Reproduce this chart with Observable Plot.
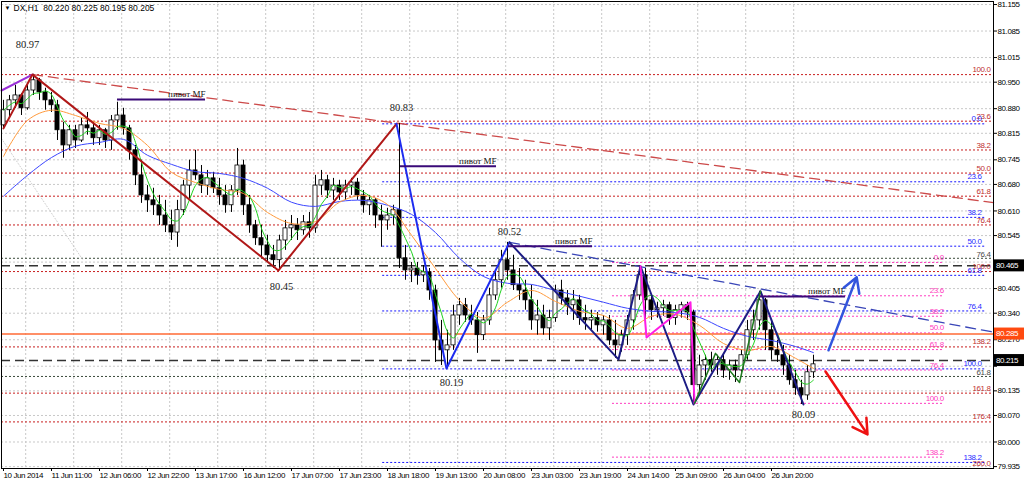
<!DOCTYPE html>
<html><head><meta charset="utf-8">
<script src="https://cdn.jsdelivr.net/npm/d3@7"></script>
<script src="https://cdn.jsdelivr.net/npm/@observablehq/plot@0.6"></script>
<style>
html,body{margin:0;padding:0;background:#fff;}
#chart svg{display:block;}
</style></head><body><div id="chart"></div>
<script>
// ---------- DATA ----------
const header = "DX,H1  80.220 80.225 80.195 80.205";
const xTickIdx = [0,8,16,24,32,40,48,56,64,72,80,88,96,104,112,120,128];
const xTickLabels = ["10 Jun 2014","11 Jun 11:00","12 Jun 06:00","12 Jun 22:00","13 Jun 17:00","16 Jun 12:00","17 Jun 07:00","17 Jun 23:00","18 Jun 18:00","19 Jun 13:00","20 Jun 08:00","23 Jun 03:00","23 Jun 19:00","24 Jun 14:00","25 Jun 09:00","26 Jun 04:00","26 Jun 20:00"];
const yTicks = [81.155,81.085,81.015,80.950,80.880,80.815,80.745,80.680,80.610,80.545,80.475,80.405,80.340,80.270,80.200,80.135,80.070,80.000,79.935];
const yTicksHidden = [80.200]; // covered by the current-price box in the reference

// candles [open, high, low, close] (2-hour steps)
const ohlc = [
[80.836,80.902,80.828,80.876],[80.876,80.915,80.854,80.902],[80.902,80.942,80.881,80.915],[80.915,80.920,80.862,80.881],
[80.881,80.942,80.876,80.928],[80.928,80.971,80.915,80.955],[80.955,80.960,80.902,80.923],[80.923,80.934,80.876,80.902],
[80.902,80.923,80.870,80.889],[80.889,80.902,80.796,80.823],[80.823,80.844,80.749,80.783],[80.783,80.836,80.770,80.823],
[80.823,80.836,80.775,80.796],[80.796,80.854,80.791,80.836],[80.836,80.870,80.810,80.828],[80.828,80.844,80.783,80.802],
[80.802,80.836,80.783,80.823],[80.823,80.828,80.775,80.796],[80.796,80.862,80.770,80.849],[80.849,80.897,80.823,80.862],
[80.862,80.881,80.810,80.828],[80.828,80.836,80.744,80.770],[80.770,80.783,80.677,80.704],[80.704,80.744,80.630,80.651],
[80.651,80.677,80.606,80.638],[80.638,80.670,80.598,80.625],[80.625,80.651,80.572,80.598],[80.598,80.638,80.553,80.572],
[80.572,80.612,80.532,80.553],[80.553,80.638,80.514,80.612],[80.612,80.691,80.598,80.677],[80.677,80.744,80.638,80.717],
[80.717,80.770,80.691,80.704],[80.704,80.730,80.656,80.677],[80.677,80.717,80.651,80.696],[80.696,80.712,80.656,80.670],
[80.670,80.696,80.625,80.651],[80.651,80.677,80.604,80.625],[80.625,80.677,80.606,80.664],[80.664,80.775,80.651,80.730],
[80.730,80.744,80.598,80.625],[80.625,80.651,80.551,80.572],[80.572,80.585,80.519,80.538],[80.538,80.572,80.488,80.519],
[80.519,80.546,80.474,80.493],[80.493,80.519,80.458,80.480],[80.480,80.546,80.453,80.532],[80.532,80.585,80.506,80.564],
[80.564,80.598,80.532,80.572],[80.572,80.590,80.532,80.559],[80.559,80.598,80.546,80.580],[80.580,80.606,80.538,80.564],
[80.564,80.704,80.551,80.677],[80.677,80.717,80.651,80.691],[80.691,80.704,80.643,80.664],[80.664,80.696,80.638,80.677],
[80.677,80.691,80.638,80.659],[80.659,80.691,80.638,80.677],[80.677,80.696,80.651,80.685],[80.685,80.696,80.638,80.651],
[80.651,80.664,80.604,80.625],[80.625,80.651,80.598,80.638],[80.638,80.643,80.564,80.598],[80.598,80.625,80.514,80.585],
[80.585,80.617,80.559,80.598],[80.598,80.625,80.572,80.612],[80.612,80.841,80.458,80.485],[80.485,80.519,80.427,80.453],
[80.453,80.474,80.421,80.458],[80.458,80.474,80.414,80.440],[80.440,80.466,80.421,80.448],[80.448,80.458,80.374,80.400],
[80.400,80.414,80.210,80.268],[80.268,80.321,80.202,80.242],[80.242,80.295,80.194,80.255],[80.255,80.361,80.242,80.334],
[80.334,80.379,80.308,80.361],[80.361,80.379,80.316,80.334],[80.334,80.361,80.308,80.321],[80.321,80.342,80.234,80.282],
[80.282,80.334,80.268,80.321],[80.321,80.406,80.308,80.387],[80.387,80.453,80.374,80.427],[80.427,80.506,80.406,80.480],
[80.480,80.527,80.427,80.453],[80.453,80.493,80.400,80.414],[80.414,80.458,80.374,80.400],[80.400,80.427,80.348,80.374],
[80.374,80.414,80.295,80.321],[80.321,80.374,80.282,80.334],[80.334,80.361,80.282,80.300],[80.300,80.348,80.268,80.327],
[80.327,80.414,80.316,80.400],[80.400,80.427,80.361,80.379],[80.379,80.400,80.334,80.361],[80.361,80.400,80.321,80.374],
[80.374,80.387,80.308,80.327],[80.327,80.361,80.295,80.321],[80.321,80.348,80.295,80.327],[80.327,80.342,80.290,80.308],
[80.308,80.334,80.282,80.321],[80.321,80.334,80.255,80.268],[80.268,80.321,80.221,80.255],[80.255,80.295,80.237,80.282],
[80.282,80.334,80.255,80.321],[80.321,80.400,80.295,80.387],[80.387,80.464,80.374,80.440],[80.440,80.458,80.295,80.374],
[80.374,80.387,80.321,80.348],[80.348,80.369,80.327,80.353],[80.353,80.374,80.332,80.361],[80.361,80.369,80.308,80.327],
[80.327,80.361,80.308,80.348],[80.348,80.369,80.327,80.361],[80.361,80.369,80.321,80.342],[80.342,80.348,80.099,80.150],
[80.150,80.229,80.123,80.202],[80.202,80.229,80.163,80.216],[80.216,80.237,80.184,80.202],[80.202,80.229,80.176,80.216],
[80.216,80.229,80.168,80.189],[80.189,80.216,80.163,80.202],[80.202,80.216,80.157,80.189],[80.189,80.242,80.184,80.229],
[80.229,80.321,80.216,80.295],[80.295,80.348,80.268,80.321],[80.321,80.398,80.295,80.374],[80.374,80.379,80.242,80.295],
[80.295,80.321,80.216,80.242],[80.242,80.268,80.210,80.229],[80.229,80.255,80.176,80.202],[80.202,80.229,80.150,80.163],
[80.163,80.189,80.123,80.142],[80.142,80.163,80.099,80.123],[80.123,80.202,80.110,80.184],[80.184,80.229,80.168,80.205]
];

const maIdx = [0,4,8,12,16,20,24,28,32,36,40,44,48,52,56,60,64,68,72,76,80,84,88,92,96,100,104,108,112,116,120,124,128,132,135];
const maOrange = [80.754,80.849,80.876,80.862,80.841,80.828,80.783,80.712,80.685,80.667,80.656,80.606,80.577,80.582,80.633,80.651,80.627,80.546,80.458,80.374,80.327,80.369,80.400,80.371,80.345,80.334,80.300,80.332,80.337,80.308,80.260,80.242,80.252,80.221,80.194];
const maBlue = [80.649,80.704,80.751,80.781,80.791,80.799,80.757,80.733,80.714,80.709,80.696,80.670,80.633,80.622,80.635,80.638,80.625,80.601,80.553,80.485,80.437,80.419,80.416,80.400,80.385,80.369,80.353,80.345,80.342,80.329,80.300,80.279,80.268,80.252,80.236];

// fibonacci levels
const redFibLabels = ["100.0","23.6","38.2","50.0","61.8","76.4","100.0","138.2","161.8","176.4"];
const redFibPrices = [80.970,80.847,80.771,80.710,80.649,80.573,80.450,80.251,80.129,80.053];
const blueFibLabels = ["0.0","23.6","38.2","50.0","61.8","76.4","100.0","138.2"];
const blueFibPrices = [80.840,80.687,80.593,80.517,80.440,80.346,80.193,79.946];
const blueFibStart = 63.2, blueFibEnd = 163.7;
const pinkFibLabels = ["0.0","23.6","38.2","50.0","61.8","76.4","100.0","138.2"];
const pinkFibPrices = [80.474,80.386,80.332,80.288,80.244,80.190,80.102,79.960];
const pinkFibStart = 101.5, pinkFibEnd = 156.7;
const grayLabels = ["76.4","61.8"];
const grayPrices = [80.485,80.173];
const dashedLevels = [80.465,80.215];
const orangeLevel = 80.285;
const extraLabel = {text:"260.0", price:79.944};

// zigzags & trend lines [barIndex, price]
const zzPurple = [[-0.33,80.928],[4.83,80.970]];
const zzRed = [[0,80.828],[4.83,80.970],[45.83,80.453],[65.5,80.840]];
const zzBlue = [[65.5,80.840],[73.83,80.194],[84.33,80.527]];
const zzNavy = [[84.33,80.527],[102.5,80.218],[106.17,80.464],[115,80.099],[126.17,80.398],[133.33,80.099]];
const zzMagenta = [[106.17,80.464],[107.17,80.276],[114.5,80.369],[115.17,80.102]];
const zzGreen = [[115.17,80.102],[118.67,80.234],[122.67,80.157],[126.17,80.398]];
const trendRed = [[4.83,80.970],[165,80.632]];
const trendBlue = [[84.33,80.527],[165,80.290]];
const grayRay = [[-0.33,80.801],[13.3,80.479]];

// pivot lines [startBar, endBar, price]
const pivots = [[19,33.67,80.904],[66.17,82.17,80.728],[84.17,98.17,80.517],[126.17,140.33,80.384]];
const pivotText = "пивот MF";

// swing labels [bar, price, text]
const swings = [[4.83,80.970,"80.97"],[65.5,80.840,"80.83"],[45.83,80.453,"80.45"],[84.33,80.527,"80.52"],[73.83,80.194,"80.19"],[133.33,80.099,"80.09"]];

// forecast arrows [x1,y1,x2,y2,color]
const arrows = [[137.5,80.242,142.2,80.435,"#3355dd"],[137,80.186,144,80.020,"#ee1111"]];

// price boxes on the axis
const boxPrices = [80.465,80.285,80.215];
const boxColors = ["#000000","#ff4a10","#000000"];

// ---------- BUILD ----------
const bars = ohlc.map((r,i)=>({i, o:r[0], h:r[1], l:r[2], c:r[3]}));
const maO = maIdx.map((d,k)=>({i:d, v:maOrange[k]}));
const maB = maIdx.map((d,k)=>({i:d, v:maBlue[k]}));
const pts = a => a.map(([i,p])=>({i,p}));
const redFib = redFibPrices.map((p,k)=>({p, t:redFibLabels[k]}));
const blueFib = blueFibPrices.map((p,k)=>({p, t:blueFibLabels[k]}));
const pinkFib = pinkFibPrices.map((p,k)=>({p, t:pinkFibLabels[k]}));
const grayFib = grayPrices.map((p,k)=>({p, t:grayLabels[k]}));
const X0 = -0.333, X1 = 165;
const sans = "'Liberation Sans',Arial,sans-serif";
const serif = "'Liberation Serif','Times New Roman',serif";

const swingDy = {"80.97":-30,"80.83":-16,"80.45":16,"80.52":-11,"80.19":14,"80.09":10};
const swingDx = {"80.97":-5,"80.83":5,"80.45":3,"80.52":0,"80.19":5,"80.09":0};

const normalSpacing = (index, scales, values, dim, ctx, next) => {
  const g = next(index, scales, values, dim, ctx);
  g.setAttribute("letter-spacing", "0");
  return g;
};

function boxesMark(index, scales, values, dim){
  const g = d3.create("svg:g").attr("text-anchor", "start");
  boxPrices.forEach((p,k)=>{
    const y = scales.y(p);
    g.append("rect").attr("x", dim.width - dim.marginRight + 1).attr("y", y-6).attr("width", 30).attr("height", 12).attr("fill", boxColors[k]);
    g.append("text").attr("x", dim.width - dim.marginRight + 3).attr("y", y).attr("dy","0.35em")
      .attr("fill","#fff").attr("font-size", 8).attr("font-family", sans).text(p.toFixed(3));
  });
  return g.node();
}

const chart = Plot.plot({
  width: 1024, height: 482,
  marginLeft: 1, marginRight: 31, marginTop: 1, marginBottom: 14,
  style: {fontFamily: sans, fontSize: "8px", background: "#fff", overflow: "visible", letterSpacing: "-0.4px"},
  x: {domain: [X0, X1]},
  y: {domain: [79.930, 81.163]},
  marks: [
    Plot.gridY(yTicks, {stroke: "#c8c8c8", strokeOpacity: 1, strokeDasharray: "2,2"}),
    Plot.gridX(xTickIdx.map(d=>d+3.7), {stroke: "#c8c8c8", strokeOpacity: 1, strokeDasharray: "2,2"}),
    // fib levels
    Plot.ruleY(redFib, {y: "p", x1: X0, x2: X1, stroke: "#c81e1e", strokeDasharray: "2,2"}),
    Plot.ruleY(grayFib, {y: "p", x1: X0, x2: X1, stroke: "#3a4a3a", strokeDasharray: "2,2"}),
    Plot.ruleY(blueFib, {y: "p", x1: blueFibStart, x2: blueFibEnd, stroke: "#1515ff", strokeDasharray: "2,2"}),
    Plot.ruleY(pinkFib, {y: "p", x1: pinkFibStart, x2: pinkFibEnd, stroke: "#ff3cc0", strokeDasharray: "2,2"}),
    Plot.ruleY(dashedLevels, {x1: X0, x2: X1, stroke: "#333", strokeWidth: 1.5, strokeDasharray: "9,5"}),
    Plot.ruleY([orangeLevel], {x1: X0, x2: X1, stroke: "#ff6a35", strokeWidth: 1.5}),
    // fib labels
    Plot.text(redFib, {x: 164.5, y: "p", text: "t", textAnchor: "end", dy: -5, fill: "#c03030", fontSize: 8}),
    Plot.text(grayFib, {x: 164.5, y: "p", text: "t", textAnchor: "end", dy: -4, fill: "#4a4a4a", fontSize: 8}),
    Plot.text(blueFib, {x: 163.0, y: "p", text: "t", textAnchor: "end", dy: -5, fill: "#2a2aff", fontSize: 8}),
    Plot.text(pinkFib, {x: pinkFibEnd, y: "p", text: "t", textAnchor: "end", dy: -5, fill: "#ff3cc0", fontSize: 8}),
    Plot.text([extraLabel], {x: 164.5, y: "price", text: "text", textAnchor: "end", fill: "#c03030", fontSize: 8}),
    // trend lines
    Plot.line(pts(trendRed), {x: "i", y: "p", stroke: "#cc4a4a", strokeWidth: 1.3, strokeDasharray: "10,6"}),
    Plot.line(pts(trendBlue), {x: "i", y: "p", stroke: "#3a46b8", strokeWidth: 1.3, strokeDasharray: "10,6"}),
    Plot.line(pts(grayRay), {x: "i", y: "p", stroke: "#cfcfcf", strokeWidth: 1, strokeDasharray: "1,2"}),
    // candles
    Plot.ruleX(bars, {x: "i", y1: "l", y2: "h", stroke: "#000", strokeWidth: 1}),
    Plot.rect(bars, {x1: d=>d.i-0.34, x2: d=>d.i+0.34, y1: "o", y2: "c", fill: d=>d.c>=d.o ? "#ffffff" : "#000000", stroke: "#000", strokeWidth: 0.8}),
    // moving averages
    Plot.line(maB, {x: "i", y: "v", stroke: "#3c46ff", strokeWidth: 1, curve: "catmull-rom"}),
    Plot.line(maO, {x: "i", y: "v", stroke: "#ff9a3c", strokeWidth: 1, curve: "catmull-rom"}),
    Plot.lineY(bars, Plot.windowY({k: 4, anchor: "end"}, {x: "i", y: "c", stroke: "#1ed21e", strokeWidth: 1, curve: "catmull-rom"})),
    // zigzags
    Plot.line(pts(zzPurple), {x: "i", y: "p", stroke: "#9a30d8", strokeWidth: 2}),
    Plot.line(pts(zzRed), {x: "i", y: "p", stroke: "#b01818", strokeWidth: 2}),
    Plot.line(pts(zzBlue), {x: "i", y: "p", stroke: "#1e2cf0", strokeWidth: 2}),
    Plot.line(pts(zzNavy), {x: "i", y: "p", stroke: "#1c1c84", strokeWidth: 2}),
    Plot.line(pts(zzMagenta), {x: "i", y: "p", stroke: "#ff1ee6", strokeWidth: 2}),
    Plot.line(pts(zzGreen), {x: "i", y: "p", stroke: "#1f7a1f", strokeWidth: 1.5}),
    // pivots
    Plot.ruleY(pivots, {y: d=>d[2], x1: d=>d[0], x2: d=>d[1], stroke: "#3a0a78", strokeWidth: 2}),
    Plot.text(pivots, {x: d=>d[1], y: d=>d[2], text: d=>pivotText, textAnchor: "end", dy: -5, fontFamily: serif, fontSize: 9, fill: "#111", render: normalSpacing}),
    // swing labels
    Plot.text(swings, {x: d=>d[0], y: d=>d[1], text: d=>d[2], fontFamily: serif, fontSize: 10.5, fill: "#222",
      render: (index, scales, values, dim, ctx, next) => {
        const g = next(index, scales, values, dim, ctx);
        g.setAttribute("letter-spacing", "0");
        d3.select(g).selectAll("text").each(function(_, j){
          const t = swings[index[j]][2];
          d3.select(this).attr("transform", `translate(${values.x[index[j]] + swingDx[t]},${values.y[index[j]] + swingDy[t]})`);
        });
        return g;
      }}),
    // arrows
    Plot.arrow(arrows, {x1: d=>d[0], y1: d=>d[1], x2: d=>d[2], y2: d=>d[3], stroke: d=>d[4], strokeWidth: 2.5, headLength: 10}),
    // header
    Plot.text([header], {frameAnchor: "top-left", dx: 12, dy: 3, textAnchor: "start", fontSize: 8.5, fill: "#000", render: normalSpacing}),
    Plot.text(["▼"], {frameAnchor: "top-left", dx: 3, dy: 4, textAnchor: "start", fontSize: 6, fill: "#000"}),
    // axes
    Plot.axisY({anchor: "right", ticks: yTicks, tickFormat: d=>yTicksHidden.includes(d) ? "" : d.toFixed(3), tickSize: 3, tickPadding: 1, fontSize: 8, label: null}),
    Plot.axisX({ticks: xTickIdx, tickFormat: d=>xTickLabels[xTickIdx.indexOf(d)], textAnchor: "start", tickSize: 3, tickPadding: 1, fontSize: 8, label: null}),
    boxesMark,
    Plot.frame({stroke: "#000"})
  ]
});
document.getElementById("chart").appendChild(chart);
</script></body></html>
